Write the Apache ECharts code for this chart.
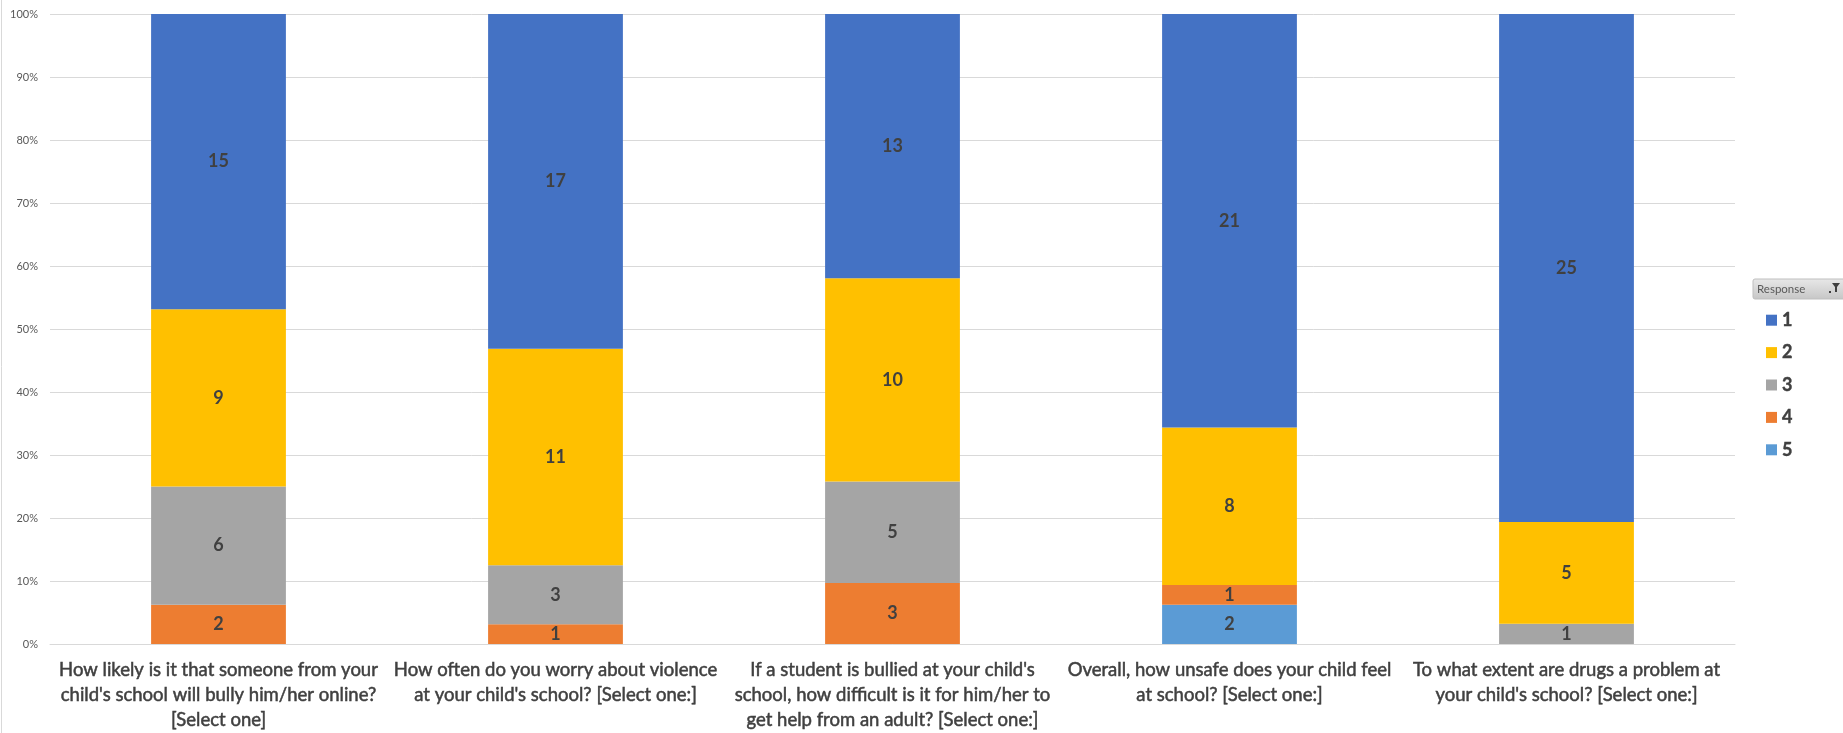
<!DOCTYPE html>
<html>
<head>
<meta charset="utf-8">
<script src="https://cdn.jsdelivr.net/npm/echarts@6/dist/echarts.min.js"></script>
<style>
html,body{margin:0;padding:0;background:#fff;overflow:hidden;}
#chart{width:1843px;height:733px;}
</style>
</head>
<body>
<div id="chart"></div>
<script>
const categories = [
  "How likely is it that someone from your\nchild's school will bully him/her online?\n[Select one]",
  "How often do you worry about violence\nat your child's school? [Select one:]",
  "If a student is bullied at your child's\nschool, how difficult is it for him/her to\nget help from an adult? [Select one:]",
  "Overall, how unsafe does your child feel\nat school? [Select one:]",
  "To what extent are drugs a problem at\nyour child's school? [Select one:]"
];
const responses = ['1', '2', '3', '4', '5'];
const resp1 = [15, 17, 13, 21, 25];
const resp2 = [9, 11, 10, 8, 5];
const resp3 = [6, 3, 5, 0, 1];
const resp4 = [2, 1, 3, 1, 0];
const resp5 = [0, 0, 0, 2, 0];
const yTicks = [0, 10, 20, 30, 40, 50, 60, 70, 80, 90, 100];

const colors = {'1': '#4472C4', '2': '#FFC000', '3': '#A5A5A5', '4': '#ED7D31', '5': '#5B9BD5'};
const counts = {'1': resp1, '2': resp2, '3': resp3, '4': resp4, '5': resp5};
const totals = categories.map((c, i) => responses.reduce((s, r) => s + counts[r][i], 0));

const font = "Lato, 'Open Sans', sans-serif";

// stack bottom to top: 5,4,3,2,1
const stackOrder = ['5', '4', '3', '2', '1'];
const series = stackOrder.map(r => ({
  name: r,
  type: 'bar',
  stack: 'total',
  barWidth: '40%',
  itemStyle: {color: colors[r]},
  label: {
    show: true,
    position: 'inside',
    color: '#404040',
    fontSize: 18,
    fontWeight: 'bold',
    fontFamily: font,
    formatter: p => p.data.count
  },
  data: counts[r].map((v, i) => v > 0 ? {value: v / totals[i] * 100, count: v} : {value: 0, count: '', label: {show: false}})
}));

const chart = echarts.init(document.getElementById('chart'));
chart.setOption({
  animation: false,
  backgroundColor: '#fff',
  grid: {left: 50, right: 108, top: 14, bottom: 85},
  xAxis: {
    type: 'category',
    data: categories,
    axisTick: {show: false},
    axisLine: {show: true, lineStyle: {color: '#D9D9D9'}},
    axisLabel: {
      interval: 0,
      color: '#404040',
      fontSize: 18.5,
      fontFamily: font,
      lineHeight: 25,
      margin: 14,
      textBorderColor: '#404040',
      textBorderWidth: 0.5
    }
  },
  yAxis: {
    type: 'value',
    min: yTicks[0],
    max: yTicks[yTicks.length - 1],
    interval: 10,
    axisLine: {show: false},
    axisTick: {show: false},
    splitLine: {lineStyle: {color: '#D9D9D9'}},
    axisLabel: {color: '#595959', fontSize: 11, fontFamily: font, formatter: '{value}%', margin: 12}
  },
  legend: {
    data: responses,
    orient: 'vertical',
    left: 1761,
    top: 306,
    itemWidth: 11,
    itemHeight: 11,
    itemGap: 14,
    icon: 'rect',
    textStyle: {color: '#404040', fontSize: 18, fontWeight: 'bold', fontFamily: font, textBorderColor: '#404040', textBorderWidth: 0.4}
  },
  graphic: [
    {type: 'line', shape: {x1: 1.5, y1: 0, x2: 1.5, y2: 733}, style: {stroke: '#D9D9D9', lineWidth: 1}},
    {type: 'rect', shape: {x: 1753, y: 279, width: 92, height: 20, r: 2},
     style: {fill: new echarts.graphic.LinearGradient(0, 0, 0, 1, [{offset: 0, color: '#E8E8E8'}, {offset: 1, color: '#C6C6C6'}]), stroke: '#BFBFBF'}},
    {type: 'text', left: 1757, top: 283, style: {text: 'Response', fill: '#595959', fontSize: 11.5, fontFamily: font}},
    {type: 'polygon', shape: {points: [[1832, 283], [1840, 283], [1837, 287], [1837, 292], [1835, 292], [1835, 287]]}, style: {fill: '#404040'}},
    {type: 'rect', shape: {x: 1829, y: 291, width: 2, height: 2}, style: {fill: '#404040'}}
  ],
  series: series
});
</script>
</body>
</html>
